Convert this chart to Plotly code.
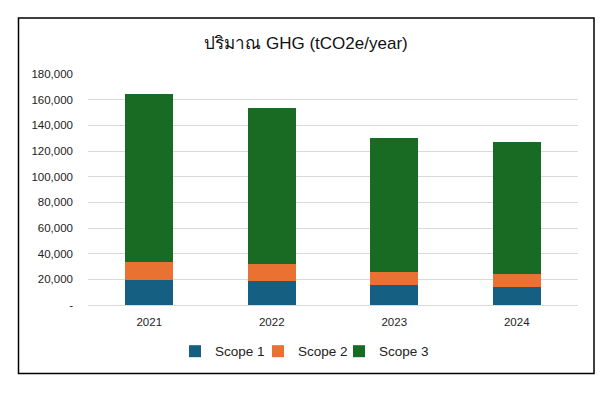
import plotly.graph_objects as go

years = ["2021", "2022", "2023", "2024"]
scope1 = [19300, 18500, 15400, 14100]
scope2 = [14100, 13300, 10100, 9900]
scope3 = [131200, 121900, 104700, 103100]
series_names = ["Scope 1", "Scope 2", "Scope 3"]
colors = ["#156082", "#E97132", "#196B24"]
y_ticks = [0, 20000, 40000, 60000, 80000, 100000, 120000, 140000, 160000, 180000]
y_tick_text = ["-", "20,000", "40,000", "60,000", "80,000", "100,000",
               "120,000", "140,000", "160,000", "180,000"]
title_text = "ปริมาณ GHG (tCO2e/year)"

# page body has an 8px margin, so work in coordinates shifted by 8px
OFF = 8
W, H = 612 - OFF, 396 - OFF
L, R, T, B = 88 - OFF, 578 - OFF, 74.3 - OFF, 304.7 - OFF

pw, ph = R - L, B - T
def px(xp):
    return (xp - OFF - L) / pw
def py(yp):
    return (B - (yp - OFF)) / ph

legend_ids = ["legend", "legend2", "legend3"]
legend_left_px = [175, 258, 339]

fig = go.Figure()
for name, vals, col, lid in zip(series_names, [scope1, scope2, scope3], colors, legend_ids):
    fig.add_trace(go.Bar(x=years, y=vals, name=name, legend=lid,
                         marker=dict(color=col, line=dict(width=0))))

legend_style = dict(orientation="h", xanchor="left", xref="paper", yanchor="middle",
                    y=py(351), font=dict(size=13.5, color="#222222"),
                    bgcolor="rgba(0,0,0,0)", itemwidth=30)
legend_layout = {lid: dict(legend_style, x=px(xl)) for lid, xl in zip(legend_ids, legend_left_px)}

fig.update_layout(
    width=W, height=H,
    barmode="stack", bargap=0.61,
    margin=dict(l=L, r=W - R, t=T, b=H - B, pad=0),
    paper_bgcolor="white", plot_bgcolor="white",
    font=dict(family="Liberation Sans, Arial, sans-serif", color="#222222", size=11),
    title=dict(text=title_text, x=px(306), xref="paper", xanchor="center",
               y=1 - (43 - OFF) / H, yanchor="middle",
               font=dict(size=17, color="#111111")),
    showlegend=True,
    shapes=[dict(type="rect", xref="paper", yref="paper",
                 x0=px(18.5), x1=px(594), y0=py(373), y1=py(18.5),
                 line=dict(color="#000000", width=1.5), layer="above")],
    **legend_layout,
)
fig.update_yaxes(range=[0, 180000], tickvals=y_ticks, ticktext=y_tick_text,
                 showgrid=True, gridcolor="#D9D9D9", gridwidth=1,
                 zeroline=False, showline=False, ticks="", ticklabelstandoff=14,
                 tickfont=dict(size=11.5, color="#222222"), fixedrange=True)
fig.update_xaxes(showgrid=False, showline=True, linecolor="#D9D9D9", linewidth=1,
                 ticks="", ticklabelstandoff=6, tickfont=dict(size=11.5, color="#222222"))

fig.write_html("out.html")
